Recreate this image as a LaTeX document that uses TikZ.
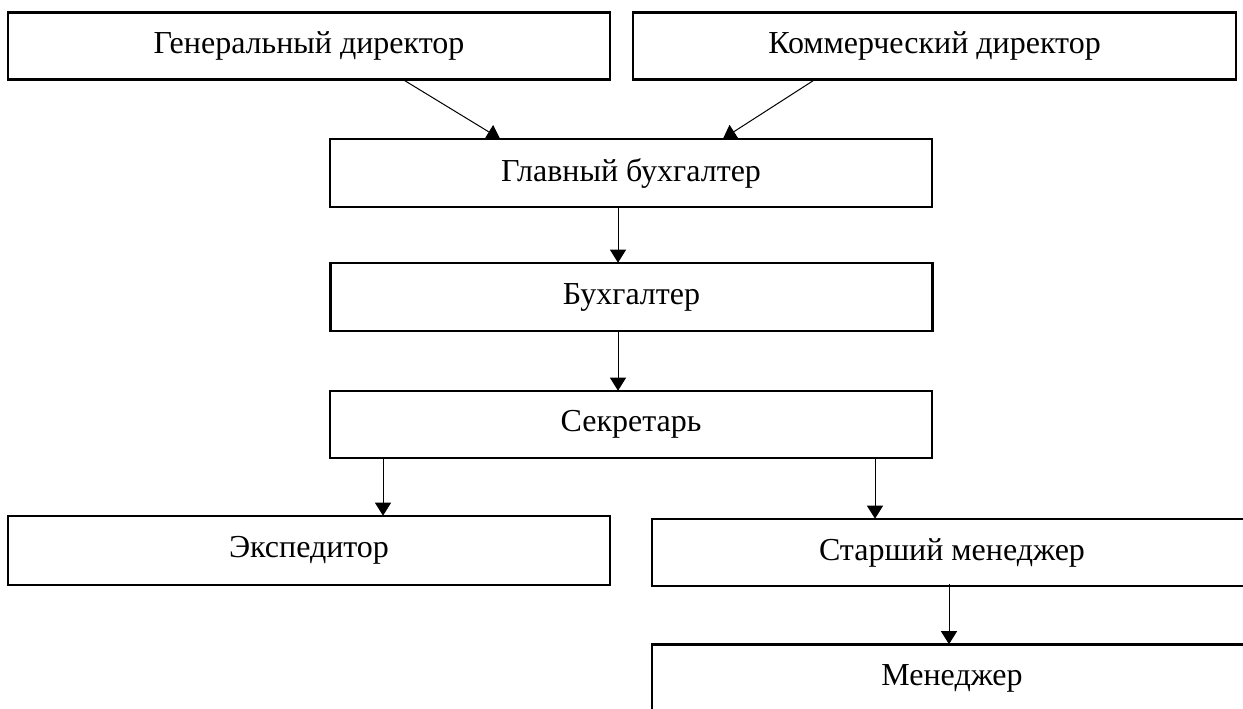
\documentclass[tikz,border=0pt]{standalone}
\usepackage{fontspec}
\setmainfont{Liberation Serif}
\usetikzlibrary{arrows.meta}
\begin{document}
\begin{tikzpicture}[x=1pt,y=-1pt,
  box/.style={draw=black,line width=2.6pt,rectangle,minimum width=602pt,minimum height=67pt,inner sep=0pt,font=\fontsize{32}{38}\selectfont},
  arr/.style={line width=1pt,-{Triangle[length=13pt,width=16pt]}}]
\useasboundingbox (0,0) rectangle (1243,709);
\node[box] (gd) at (309,46) {Генеральный директор};
\node[box,minimum width=603pt] (kd) at (934.5,46) {Коммерческий директор};
\node[box,minimum height=68pt] (gb) at (631,173) {Главный бухгалтер};
\node[box,minimum height=68pt] (bh) at (631.5,297) {Бухгалтер};
\node[box] (sec) at (631,424.5) {Секретарь};
\node[box,minimum height=69pt] (ex) at (309,550.5) {Экспедитор};
\node[box,minimum width=600pt] (sm) at (952,552.5) {Старший менеджер};
\node[box,minimum width=600pt] (mn) at (952,678) {Менеджер};
\draw[arr] ([xshift=96pt]gd.south) -- ([xshift=-131pt,yshift=-1pt]gb.north);
\draw[arr] ([xshift=-121.5pt]kd.south) -- ([xshift=92pt,yshift=-1pt]gb.north);
\draw[arr] ([xshift=-13pt]gb.south) -- ([xshift=-13.5pt,yshift=-1pt]bh.north);
\draw[arr] ([xshift=-13.5pt]bh.south) -- ([xshift=-13pt,yshift=-1pt]sec.north);
\draw[arr] ([xshift=-248pt]sec.south) -- ([xshift=74pt,yshift=-1pt]ex.north);
\draw[arr] ([xshift=244pt]sec.south) -- ([xshift=-77pt,yshift=-1pt]sm.north);
\draw[arr] ([xshift=-3pt,yshift=3pt]sm.south) -- ([xshift=-3pt,yshift=-1pt]mn.north);
\end{tikzpicture}
\end{document}
